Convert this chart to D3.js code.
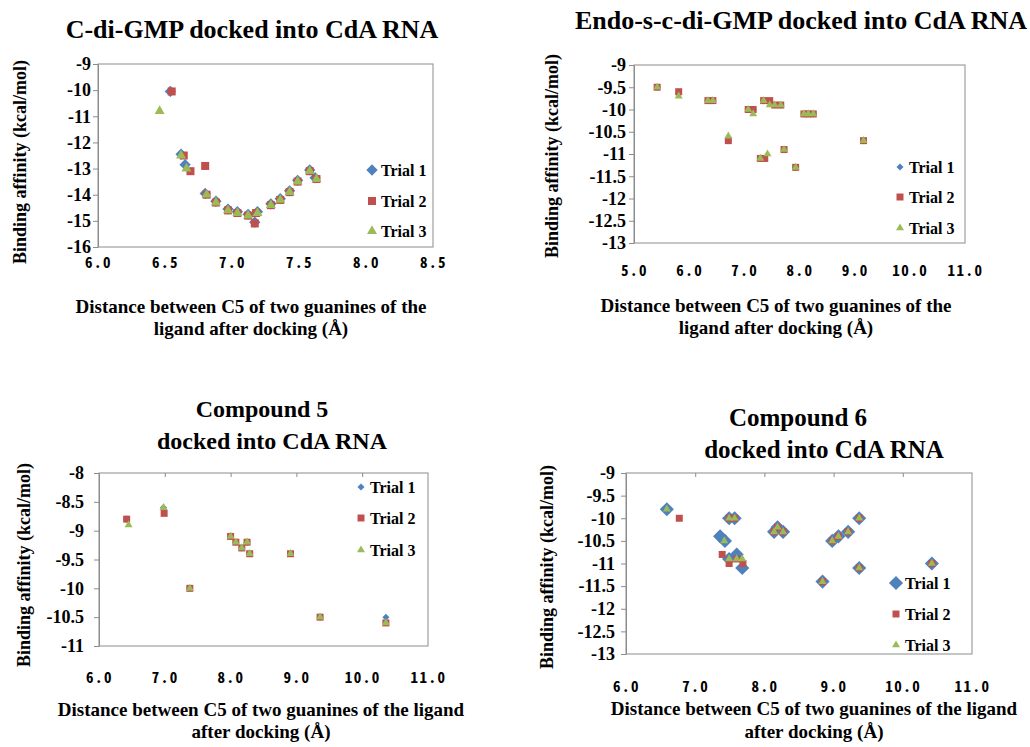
<!DOCTYPE html>
<html>
<head>
<meta charset="utf-8">
<script src="https://cdn.jsdelivr.net/npm/d3@7"></script>
<style>
  body { margin: 0; background: #fff; }
  #chart text { font-family: "Liberation Serif", serif; font-weight: bold; fill: #000; }
  #chart .xlab text { font-family: "Noto Sans Mono CJK JP", "DejaVu Sans Mono", monospace; letter-spacing: 1.5px; }
</style>
</head>
<body>
<svg id="chart" width="1030" height="747"></svg>
<script>
// ---- data: [distance (Å), binding affinity (kcal/mol)] ----
const trialNames = ["Trial 1", "Trial 2", "Trial 3"];

// C-di-GMP
const p1Trial1 = [[6.54,-10.05],[6.62,-12.45],[6.65,-12.85],[6.80,-13.95],[6.88,-14.25],[6.97,-14.55],[7.04,-14.65],[7.12,-14.75],[7.17,-15.05],[7.19,-14.65],[7.29,-14.35],[7.36,-14.15],[7.43,-13.85],[7.49,-13.45],[7.58,-13.05],[7.62,-13.35]];
const p1Trial2 = [[6.55,-10.05],[6.64,-12.5],[6.69,-13.1],[6.80,-12.9],[6.81,-14.0],[6.88,-14.3],[6.97,-14.6],[7.04,-14.7],[7.12,-14.8],[7.17,-15.1],[7.18,-14.7],[7.29,-14.4],[7.36,-14.2],[7.43,-13.9],[7.49,-13.5],[7.58,-13.1],[7.63,-13.4]];
const p1Trial3 = [[6.46,-10.8],[6.62,-12.5],[6.66,-13.0],[6.81,-14.0],[6.88,-14.3],[6.97,-14.6],[7.04,-14.7],[7.12,-14.8],[7.19,-14.7],[7.29,-14.4],[7.36,-14.2],[7.43,-13.9],[7.49,-13.5],[7.58,-13.1],[7.63,-13.4]];
const p1XTicks = [6.0, 6.5, 7.0, 7.5, 8.0, 8.5];
const p1YTicks = [-9, -10, -11, -12, -13, -14, -15, -16];

// Endo-s-c-di-GMP
const p2Trial1 = [[5.42,-9.5],[5.81,-9.65],[6.34,-9.8],[6.43,-9.8],[6.71,-10.7],[7.07,-10.0],[7.16,-10.0],[7.29,-11.1],[7.35,-9.8],[7.46,-9.85],[7.55,-9.9],[7.66,-9.9],[7.72,-10.9],[7.93,-11.3],[8.08,-10.1],[8.16,-10.1],[8.25,-10.1],[9.16,-10.7]];
const p2Trial2 = [[5.42,-9.5],[5.81,-9.6],[6.34,-9.8],[6.43,-9.8],[6.71,-10.7],[7.07,-10.0],[7.16,-10.0],[7.29,-11.1],[7.37,-11.1],[7.35,-9.8],[7.46,-9.8],[7.55,-9.9],[7.66,-9.9],[7.72,-10.9],[7.93,-11.3],[8.08,-10.1],[8.16,-10.1],[8.25,-10.1],[9.16,-10.7]];
const p2Trial3 = [[5.42,-9.5],[5.81,-9.7],[6.34,-9.8],[6.43,-9.8],[6.71,-10.6],[7.07,-10.0],[7.16,-10.1],[7.29,-11.1],[7.35,-9.8],[7.42,-11.0],[7.46,-9.9],[7.55,-9.9],[7.66,-9.9],[7.72,-10.9],[7.93,-11.3],[8.08,-10.1],[8.16,-10.1],[8.25,-10.1],[9.16,-10.7]];
const p2XTicks = [5, 6, 7, 8, 9, 10, 11];
const p2YTicks = [-9, -9.5, -10, -10.5, -11, -11.5, -12, -12.5, -13];

// Compound 5
const p3Trial1 = [[6.42,-8.8],[6.98,-8.6],[7.38,-10.0],[8.0,-9.1],[8.08,-9.2],[8.17,-9.3],[8.25,-9.2],[8.29,-9.4],[8.91,-9.4],[9.36,-10.5],[10.36,-10.5]];
const p3Trial2 = [[6.42,-8.8],[6.99,-8.7],[7.38,-10.0],[8.0,-9.1],[8.08,-9.2],[8.17,-9.3],[8.25,-9.2],[8.29,-9.4],[8.91,-9.4],[9.36,-10.5],[10.36,-10.6]];
const p3Trial3 = [[6.45,-8.9],[6.98,-8.6],[7.38,-10.0],[8.0,-9.1],[8.08,-9.2],[8.17,-9.3],[8.25,-9.2],[8.29,-9.4],[8.91,-9.4],[9.36,-10.5],[10.36,-10.6]];
const p3XTicks = [6, 7, 8, 9, 10, 11];
const p3YTicks = [-8, -8.5, -9, -9.5, -10, -10.5, -11];

// Compound 6
const p4Trial1 = [[6.59,-9.8],[7.36,-10.4],[7.43,-10.5],[7.49,-10.0],[7.57,-10.0],[7.49,-10.9],[7.60,-10.8],[7.68,-11.1],[8.14,-10.3],[8.19,-10.2],[8.27,-10.3],[8.84,-11.4],[8.98,-10.5],[9.07,-10.4],[9.21,-10.3],[9.37,-10.0],[9.37,-11.1],[10.42,-11.0]];
const p4Trial2 = [[6.77,-10.0],[7.39,-10.8],[7.49,-11.0],[7.49,-10.0],[7.57,-10.0],[7.60,-10.9],[7.69,-11.0],[8.14,-10.3],[8.19,-10.2],[8.27,-10.3],[8.84,-11.4],[8.98,-10.5],[9.07,-10.4],[9.21,-10.3],[9.37,-10.0],[9.37,-11.1],[10.42,-11.0]];
const p4Trial3 = [[6.59,-9.8],[7.42,-10.5],[7.49,-10.9],[7.49,-10.0],[7.57,-10.0],[7.60,-10.9],[7.68,-10.9],[8.14,-10.3],[8.19,-10.2],[8.27,-10.3],[8.84,-11.4],[8.98,-10.5],[9.07,-10.4],[9.21,-10.3],[9.37,-10.0],[9.37,-11.1],[10.42,-11.0]];
const p4XTicks = [6, 7, 8, 9, 10, 11];
const p4YTicks = [-9, -9.5, -10, -10.5, -11, -11.5, -12, -12.5, -13];

const yTitle = "Binding affinity (kcal/mol)";

// ---- styling ----
const frameColor = "#8c8c8c";
const shapes = [
  { type: d3.symbolSquare, rot: 45, color: "#4F81BD" },   // diamond
  { type: d3.symbolSquare, rot: 0, color: "#C0504D" },    // square
  { type: d3.symbolTriangle, rot: 0, color: "#9BBB59" }   // triangle
];

const panels = [
  {
    series: [p1Trial1, p1Trial2, p1Trial3], xTicks: p1XTicks, yTicks: p1YTicks,
    xDomain: [6, 8.5], yDomain: [-16, -9],
    left: 98, top: 64, right: 433, bottom: 247,
    title: [["C-di-GMP docked into CdA RNA", 252, 38]], titleSize: 26,
    xTitle: [["Distance between C5 of two guanines of the", 251, 313], ["ligand after docking (Å)", 251, 335]],
    yTitlePos: [26, 162], yPad: 2, xLabelGap: 21, topTicks: false,
    legendX: 372, legendY: [170, 201, 231], sizes: [8, 8, 10]
  },
  {
    series: [p2Trial1, p2Trial2, p2Trial3], xTicks: p2XTicks, yTicks: p2YTicks,
    xDomain: [5, 11], yDomain: [-13, -9],
    left: 634, top: 65, right: 965, bottom: 243,
    title: [["Endo-s-c-di-GMP docked into CdA RNA", 801, 29]], titleSize: 26,
    xTitle: [["Distance between C5 of two guanines of the", 776, 312], ["ligand after docking (Å)", 776, 334]],
    yTitlePos: [558, 156], yPad: 3, xLabelGap: 33, topTicks: false,
    legendX: 900, legendY: [167, 197, 228], sizes: [5, 7, 8]
  },
  {
    series: [p3Trial1, p3Trial2, p3Trial3], xTicks: p3XTicks, yTicks: p3YTicks,
    xDomain: [6, 11], yDomain: [-11, -8],
    left: 99, top: 473, right: 428, bottom: 646,
    title: [["Compound 5", 262, 417], ["docked into CdA RNA", 272, 449]], titleSize: 24,
    xTitle: [["Distance between C5 of two guanines of the ligand", 261, 716], ["after docking (Å)", 261, 738]],
    yTitlePos: [30, 565], yPad: 10, xLabelGap: 37, topTicks: true,
    legendX: 361, legendY: [487, 518, 550], sizes: [5, 7, 8]
  },
  {
    series: [p4Trial1, p4Trial2, p4Trial3], xTicks: p4XTicks, yTicks: p4YTicks,
    xDomain: [6, 11], yDomain: [-13, -9],
    left: 626, top: 473, right: 972, bottom: 654,
    title: [["Compound 6", 798, 426], ["docked into CdA RNA", 824, 458]], titleSize: 25,
    xTitle: [["Distance between C5 of two guanines of the ligand", 814, 715], ["after docking (Å)", 814, 738]],
    yTitlePos: [553, 567], yPad: 6, xLabelGap: 38, topTicks: true,
    legendX: 896, legendY: [583, 614, 645], sizes: [10, 7, 8]
  }
];

const svg = d3.select("#chart");

function markerPath(i, side) {
  const area = i === 2 ? Math.sqrt(3) / 4 * side * side : side * side;
  return d3.symbol(shapes[i].type, area)();
}

function drawPanel(p) {
  const g = svg.append("g");
  const x = d3.scaleLinear().domain(p.xDomain).range([p.left, p.right]);
  const y = d3.scaleLinear().domain(p.yDomain).range([p.bottom, p.top]);

  // plot frame
  g.append("rect")
      .attr("x", p.left).attr("y", p.top)
      .attr("width", p.right - p.left).attr("height", p.bottom - p.top)
      .attr("fill", "none").attr("stroke", frameColor);

  // y axis
  const yAxis = g.append("g")
      .attr("class", "ylab")
      .attr("transform", `translate(${p.left},0)`)
      .call(d3.axisLeft(y).tickValues(p.yTicks).tickFormat(d => String(d))
        .tickSize(5).tickSizeOuter(0).tickPadding(p.yPad));
  yAxis.attr("font-family", null).attr("font-size", null);
  yAxis.select(".domain").attr("stroke", frameColor);
  yAxis.selectAll(".tick line").attr("stroke", frameColor);
  yAxis.selectAll("text").style("font-size", "18px");

  // x axis labels (no tick marks at the bottom)
  const xAxis = g.append("g")
      .attr("class", "xlab")
      .attr("transform", `translate(0,${p.bottom})`)
      .call(d3.axisBottom(x).tickValues(p.xTicks).tickFormat(d3.format(".1f")).tickSize(0));
  xAxis.attr("font-family", null).attr("font-size", null);
  xAxis.select(".domain").remove();
  xAxis.selectAll("text")
      .attr("y", p.xLabelGap).attr("dy", null)
      .style("font-size", "15px");

  // small tick marks hanging from the top edge
  if (p.topTicks) {
    const t = g.append("g")
        .attr("transform", `translate(0,${p.top})`)
        .call(d3.axisTop(x).tickValues(p.xTicks.slice(1, -1)).tickSize(-4).tickFormat(""));
    t.select(".domain").remove();
    t.selectAll("line").attr("stroke", frameColor);
  }

  // markers: blue, then red, then green on top
  p.series.forEach((data, i) => {
    g.append("g").selectAll("path")
      .data(data)
      .join("path")
        .attr("d", markerPath(i, p.sizes[i]))
        .attr("transform", d => `translate(${x(d[0])},${y(d[1])}) rotate(${shapes[i].rot})`)
        .attr("fill", shapes[i].color);
  });

  // legend
  const leg = g.append("g").selectAll("g")
    .data(trialNames)
    .join("g")
      .attr("transform", (d, i) => `translate(${p.legendX},${p.legendY[i]})`);
  leg.append("path")
      .attr("d", (d, i) => markerPath(i, p.sizes[i]))
      .attr("transform", (d, i) => `rotate(${shapes[i].rot})`)
      .attr("fill", (d, i) => shapes[i].color);
  leg.append("text")
      .attr("x", 9).attr("dy", "0.35em")
      .style("font-size", "16px")
      .text(d => d);

  // titles
  g.selectAll(".title")
    .data(p.title)
    .join("text")
      .attr("class", "title")
      .attr("x", d => d[1]).attr("y", d => d[2])
      .attr("text-anchor", "middle")
      .style("font-size", p.titleSize + "px")
      .text(d => d[0]);

  g.selectAll(".xtitle")
    .data(p.xTitle)
    .join("text")
      .attr("class", "xtitle")
      .attr("x", d => d[1]).attr("y", d => d[2])
      .attr("text-anchor", "middle")
      .style("font-size", "19px")
      .text(d => d[0]);

  g.append("text")
      .attr("transform", `translate(${p.yTitlePos[0]},${p.yTitlePos[1]}) rotate(-90)`)
      .attr("text-anchor", "middle")
      .style("font-size", "18px")
      .text(yTitle);
}

panels.forEach(drawPanel);
</script>
</body>
</html>
